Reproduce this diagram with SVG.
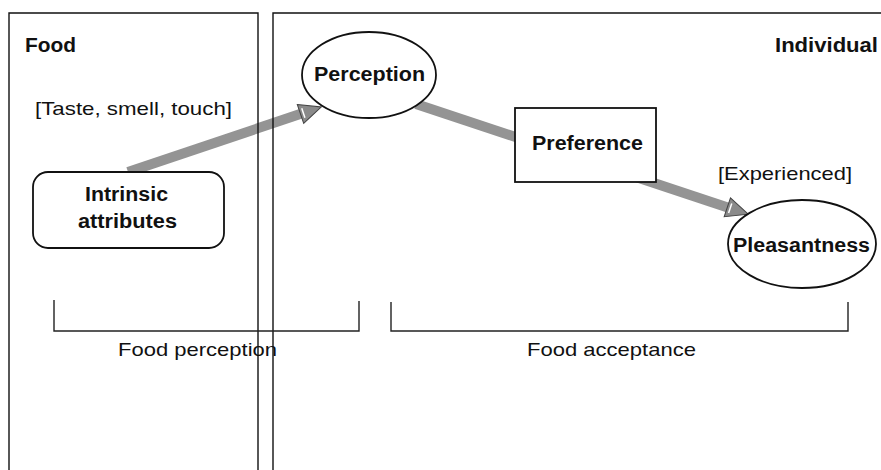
<svg xmlns="http://www.w3.org/2000/svg" width="881" height="470" viewBox="0 0 881 470">
  <style>
    .region { fill: none; stroke: #111; stroke-width: 1.4; }
    .node { fill: #fff; stroke: #111; stroke-width: 1.8; }
    .bracket { fill: none; stroke: #222; stroke-width: 1.4; }
    .bold { font-family: "Liberation Sans", Arial, sans-serif; font-weight: bold; font-size: 20px; fill: #111; }
    .plain { font-family: "Liberation Sans", Arial, sans-serif; font-size: 19px; fill: #111; }
    .shaft { fill: #949494; }
    .head { fill: #8a8a8a; stroke: #444; stroke-width: 1; }
    .glint { stroke: #fff; stroke-width: 1.5; }
  </style>

  <!-- connectors: thick grey arrows -->
  <g id="connectors">
    <!-- Intrinsic attributes -> Perception -->
    <g transform="translate(128,172) rotate(-18.6)">
      <rect class="shaft" x="0" y="-5" width="184" height="10"/>
      <polygon class="head" points="182,-10 204,0 182,10"/>
      <line class="glint" x1="185" y1="-5" x2="185" y2="5"/>
    </g>
    <!-- Perception -> Preference -> Pleasantness -->
    <g transform="translate(416,104) rotate(18.35)">
      <rect class="shaft" x="0" y="-5" width="330" height="10"/>
      <polygon class="head" points="328,-10 350,0 328,10"/>
      <line class="glint" x1="331" y1="-5" x2="331" y2="5"/>
    </g>
  </g>

  <!-- region frames -->
  <g id="region-food">
    <path class="region" d="M9,470 V13 H258 V470"/>
    <text class="bold" x="25" y="52" textLength="51" lengthAdjust="spacingAndGlyphs">Food</text>
  </g>
  <g id="region-individual">
    <path class="region" d="M273,470 V13 H881"/>
    <text class="bold" x="775" y="52" textLength="103" lengthAdjust="spacingAndGlyphs">Individual</text>
  </g>

  <text class="plain" x="35" y="115" font-size="20" textLength="197" lengthAdjust="spacingAndGlyphs">[Taste, smell, touch]</text>
  <text class="plain" x="718" y="180" textLength="134" lengthAdjust="spacingAndGlyphs">[Experienced]</text>

  <g id="node-intrinsic">
    <rect class="node" x="33" y="172" width="191" height="76" rx="15"/>
    <text class="bold" x="85" y="201" textLength="83" lengthAdjust="spacingAndGlyphs">Intrinsic</text>
    <text class="bold" x="78" y="228" textLength="99" lengthAdjust="spacingAndGlyphs">attributes</text>
  </g>

  <g id="node-perception">
    <ellipse class="node" cx="369" cy="75" rx="67" ry="43"/>
    <text class="bold" x="314" y="81" textLength="111" lengthAdjust="spacingAndGlyphs">Perception</text>
  </g>

  <g id="node-preference">
    <rect class="node" x="515" y="108" width="141" height="74"/>
    <text class="bold" x="532" y="150" textLength="111" lengthAdjust="spacingAndGlyphs">Preference</text>
  </g>

  <g id="node-pleasantness">
    <ellipse class="node" cx="802" cy="244" rx="74" ry="44"/>
    <text class="bold" x="733" y="252" textLength="137" lengthAdjust="spacingAndGlyphs">Pleasantness</text>
  </g>

  <!-- range brackets -->
  <g id="bracket-perception">
    <path class="bracket" d="M54,300 V331 H359 V301"/>
    <text class="plain" x="118" y="356" textLength="159" lengthAdjust="spacingAndGlyphs">Food perception</text>
  </g>
  <g id="bracket-acceptance">
    <path class="bracket" d="M391,302 V331 H848 V302"/>
    <text class="plain" x="527" y="356" textLength="169" lengthAdjust="spacingAndGlyphs">Food acceptance</text>
  </g>
</svg>
